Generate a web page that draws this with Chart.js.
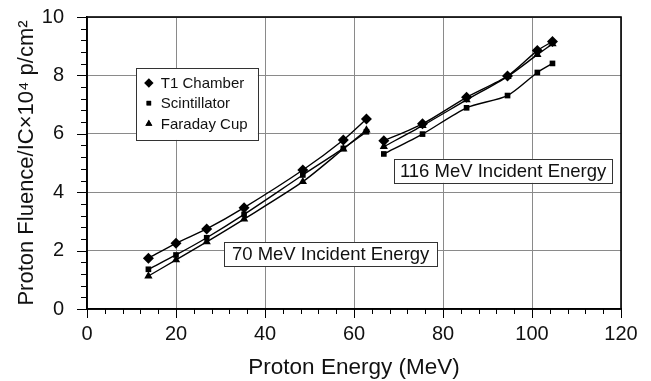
<!DOCTYPE html>
<html>
<head>
<meta charset="utf-8">
<script src="https://cdn.jsdelivr.net/npm/chart.js@4"></script>
<style>
html,body{margin:0;padding:0;background:#fff;}
#wrap{width:651px;height:381px;}
</style>
</head>
<body>
<div id="wrap"><canvas id="c" width="651" height="381"></canvas></div>
<script>
// ---- data ----
const energy70  = [13.8, 20.0, 26.9, 35.3, 48.5, 57.6, 62.8];
const t1_70     = [1.74, 2.25, 2.74, 3.47, 4.76, 5.79, 6.51];
const scint_70  = [1.36, 1.85, 2.44, 3.24, 4.59, 5.50, 6.07];
const faraday_70= [1.13, 1.68, 2.30, 3.08, 4.36, 5.48, 6.13];

const energy116  = [66.7, 75.4, 85.3, 94.5, 101.2, 104.6];
const t1_116     = [5.76, 6.34, 7.25, 7.98, 8.85, 9.16];
const scint_116  = [5.31, 5.99, 6.89, 7.31, 8.10, 8.41];
const faraday_116= [5.56, 6.28, 7.16, 7.96, 8.71, 9.08];

const seriesNames = ['T1 Chamber', 'Scintillator', 'Faraday Cup'];
const seriesMarkers = ['rectRot', 'rect', 'triangle'];
const xTickLabels = ['0','20','40','60','80','100','120'];
const yTickLabels = ['0','2','4','6','8','10'];
const annotations = ['70 MeV Incident Energy', '116 MeV Incident Energy'];

const FONT = '"Liberation Sans", Arial, Helvetica, sans-serif';
const markerRadius = {rectRot: 5.5, rect: 4, triangle: 4.8};

function pts(xs, ys){ return xs.map((x,i)=>({x:x, y:ys[i]})); }
function ds(label, marker, xs, ys){
  return {
    label: label,
    data: pts(xs, ys),
    borderColor: '#000',
    backgroundColor: '#000',
    borderWidth: 1.4,
    pointStyle: marker,
    pointRadius: markerRadius[marker],
    pointBorderWidth: 0,
    pointBackgroundColor: '#000',
    tension: 0.25,
    fill: false
  };
}

const datasets = [
  ds(seriesNames[0], seriesMarkers[0], energy70, t1_70),
  ds(seriesNames[1], seriesMarkers[1], energy70, scint_70),
  ds(seriesNames[2], seriesMarkers[2], energy70, faraday_70),
  ds(seriesNames[0], seriesMarkers[0], energy116, t1_116),
  ds(seriesNames[1], seriesMarkers[1], energy116, scint_116),
  ds(seriesNames[2], seriesMarkers[2], energy116, faraday_116)
];

// boxes in data coordinates
const boxDefs = [
  {text: annotations[0], x0: 30.8, x1: 78.7, y0: 2.29, y1: 1.47},
  {text: annotations[1], x0: 69.0, x1: 118.0, y0: 5.14, y1: 4.32}
];
const legendDef = {x0: 11.0, x1: 38.4, y0: 8.25, y1: 5.79, rows: [7.74, 7.05, 6.34], markerX: 13.9, textX: 16.6};

const decor = {
  id: 'decor',
  afterDraw(chart){
    const ctx = chart.ctx, xs = chart.scales.x, ys = chart.scales.y, a = chart.chartArea;
    ctx.save();
    // minor + major tick marks
    ctx.strokeStyle = '#000'; ctx.lineWidth = 1;
    for (let v = 0; v <= 120; v += 4){
      const p = Math.round(xs.getPixelForValue(v)) + 0.5;
      const len = (v % 20 === 0) ? 9 : 5;
      ctx.beginPath(); ctx.moveTo(p, a.bottom); ctx.lineTo(p, a.bottom + len); ctx.stroke();
    }
    for (let k = 0; k <= 25; k++){
      const v = k * 0.4;
      const p = Math.round(ys.getPixelForValue(v)) + 0.5;
      const len = (k % 5 === 0) ? 10 : 6;
      ctx.beginPath(); ctx.moveTo(a.left - len, p); ctx.lineTo(a.left, p); ctx.stroke();
    }
    // frame
    ctx.lineWidth = 1.6; ctx.strokeStyle = '#000';
    ctx.strokeRect(a.left, a.top, a.right - a.left, a.bottom - a.top);

    // annotation boxes
    ctx.font = '18.5px ' + FONT;
    ctx.textBaseline = 'middle'; ctx.textAlign = 'center';
    boxDefs.forEach(b => {
      const l = xs.getPixelForValue(b.x0), r = xs.getPixelForValue(b.x1);
      const t = ys.getPixelForValue(b.y0), btm = ys.getPixelForValue(b.y1);
      ctx.fillStyle = '#fff'; ctx.fillRect(l, t, r - l, btm - t);
      ctx.lineWidth = 1; ctx.strokeStyle = '#333';
      ctx.strokeRect(Math.round(l)+0.5, Math.round(t)+0.5, Math.round(r-l), Math.round(btm-t));
      ctx.fillStyle = '#111';
      ctx.fillText(b.text, (l + r) / 2, (t + btm) / 2 + 1);
    });

    // legend box
    const L = legendDef;
    const ll = xs.getPixelForValue(L.x0), lr = xs.getPixelForValue(L.x1);
    const lt = ys.getPixelForValue(L.y0), lb = ys.getPixelForValue(L.y1);
    ctx.fillStyle = '#fff'; ctx.fillRect(ll, lt, lr - ll, lb - lt);
    ctx.lineWidth = 1; ctx.strokeStyle = '#333';
    ctx.strokeRect(Math.round(ll)+0.5, Math.round(lt)+0.5, Math.round(lr-ll), Math.round(lb-lt));
    ctx.font = '15px ' + FONT; ctx.textAlign = 'left';
    seriesNames.forEach((name, i) => {
      const y = ys.getPixelForValue(L.rows[i]);
      const mx = xs.getPixelForValue(L.markerX);
      Chart.helpers.drawPoint(ctx, {pointStyle: seriesMarkers[i], radius: markerRadius[seriesMarkers[i]] - 0.8, rotation: 0, borderWidth: 0}, mx, y);
      ctx.fillStyle = '#000'; ctx.fill();
      ctx.fillStyle = '#111';
      ctx.fillText(name, xs.getPixelForValue(L.textX), y + 1);
    });
    ctx.restore();
  }
};

new Chart(document.getElementById('c'), {
  type: 'line',
  data: { datasets: datasets },
  plugins: [decor],
  options: {
    responsive: false,
    animation: false,
    devicePixelRatio: 1,
    layout: { padding: { top: 17, right: 30, left: 0, bottom: 0 } },
    plugins: { legend: { display: false }, tooltip: { enabled: false } },
    scales: {
      x: {
        type: 'linear', min: 0, max: 120,
        afterFit(s){ s.height = 72; },
        ticks: {
          stepSize: 20, padding: 4, color: '#111',
          font: { family: FONT, size: 20 },
          callback: (v) => { const i = Math.round(v / 20); return (Math.abs(v - i*20) < 1e-6) ? xTickLabels[i] : ''; }
        },
        grid: { color: '#8a8a8a', lineWidth: 1, tickLength: 9, tickColor: 'rgba(0,0,0,0)' },
        border: { color: '#000', width: 1.6 },
        title: { display: true, text: 'Proton Energy (MeV)', color: '#111', font: { family: FONT, size: 22.5 }, padding: { top: 0, bottom: 0 } }
      },
      y: {
        type: 'linear', min: 0, max: 10,
        afterFit(s){ s.width = 87; },
        ticks: {
          stepSize: 2, padding: 1, color: '#111',
          font: { family: FONT, size: 20 },
          callback: (v) => { const i = Math.round(v / 2); return (Math.abs(v - i*2) < 1e-6) ? yTickLabels[i] : ''; }
        },
        grid: { color: '#8a8a8a', lineWidth: 1, tickLength: 22, tickColor: 'rgba(0,0,0,0)' },
        border: { color: '#000', width: 1.6 },
        title: { display: true, text: 'Proton Fluence/IC\u00d710\u2074 p/cm\u00b2', color: '#111', font: { family: FONT, size: 22 }, padding: { top: 14, bottom: 0 } }
      }
    }
  }
});
</script>
</body>
</html>
